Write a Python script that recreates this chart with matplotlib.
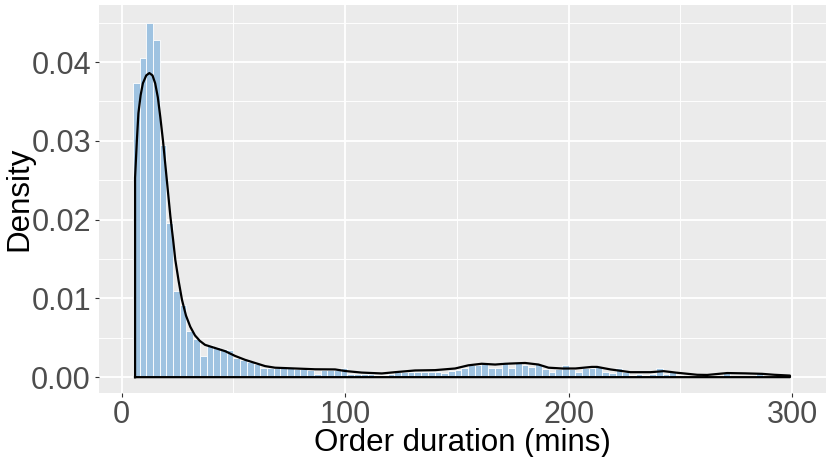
import numpy as np
import matplotlib
matplotlib.use("Agg")
import matplotlib.pyplot as plt

# ---- data ----
bin_start = 5.0
bin_width = 3.0
hist_density = [
    0.0373, 0.0405, 0.0450, 0.0428, 0.0295, 0.0196, 0.0109, 0.0091, 0.0059, 0.0049,
    0.0027, 0.0041, 0.0038, 0.0036, 0.0035, 0.0024, 0.0022, 0.0019, 0.0017, 0.0011,
    0.0011, 0.0011, 0.0011, 0.0011, 0.0010, 0.0010, 0.0009, 0.0004, 0.0009, 0.0009,
    0.0009, 0.0011, 0.0004, 0.0004, 0.0004, 0.0004, 0.0003, 0.0003, 0.0004, 0.0006,
    0.0006, 0.0006, 0.0006, 0.0006, 0.0006, 0.0006, 0.0005, 0.0008, 0.0009, 0.0012,
    0.0016, 0.0015, 0.0018, 0.0011, 0.0012, 0.0019, 0.0011, 0.0018, 0.0016, 0.0013,
    0.0017, 0.0010, 0.0006, 0.0010, 0.0015, 0.0010, 0.0006, 0.0011, 0.0011, 0.0013,
    0.0007, 0.0005, 0.0011, 0.0006, 0.0003, 0.0004, 0.0003, 0.0004, 0.0011, 0.0004,
    0.0008, 0.0003, 0.0002, 0.0002, 0.0002, 0.0002, 0.0002, 0.0002, 0.0006, 0.0002,
    0.0002, 0.0002, 0.0002, 0.0005, 0.0002, 0.0001, 0.0001, 0.0001,
]

kde_x = [6.0, 6.8, 7.5, 8.5, 9.5, 11.0, 12.4, 13.8, 15.0, 16.2, 17.3, 18.5, 19.6,
         20.7, 21.8, 23.0, 24.0, 25.5, 27.0, 28.8, 30.7, 32.8, 35.0, 37.3, 41.8,
         46.3, 50.7, 55.2, 59.7, 64.2, 68.6, 77.6, 86.5, 95.5, 100.0, 107.4, 116.4,
         122.3, 131.3, 140.2, 149.2, 155.1, 161.1, 167.1, 171.6, 180.5, 186.5,
         191.0, 197.0, 203.0, 210.4, 212.7, 218.7, 227.6, 236.6, 242.5, 248.5,
         257.5, 262.0, 270.9, 279.0, 286.5, 292.0, 299.0]
kde_y = [0.0253, 0.0300, 0.0335, 0.0358, 0.0373, 0.0383, 0.0386, 0.0383, 0.0373,
         0.0355, 0.0330, 0.0300, 0.0268, 0.0236, 0.0204, 0.0175, 0.0149, 0.0122,
         0.0098, 0.0078, 0.0064, 0.0053, 0.0046, 0.0041, 0.0037, 0.0033, 0.0027,
         0.0022, 0.0018, 0.0014, 0.0012, 0.0011, 0.0010, 0.00098, 0.00078, 0.00058,
         0.00047, 0.00063, 0.00085, 0.00089, 0.0011, 0.0015, 0.0017, 0.0016, 0.0017,
         0.0018, 0.0016, 0.0012, 0.0011, 0.0011, 0.0013, 0.0013, 0.00098, 0.00063,
         0.00063, 0.00076, 0.00056, 0.0003, 0.00028, 0.00052, 0.00048, 0.00042,
         0.0003, 0.0002]

x_ticks = [0, 100, 200, 300]
y_ticks = [0.00, 0.01, 0.02, 0.03, 0.04]
x_label = "Order duration (mins)"
y_label = "Density"

# ---- figure ----
plt.rcParams['font.family'] = ['Liberation Sans', 'DejaVu Sans']
fig = plt.figure(figsize=(8.31, 4.57), dpi=100)
ax = fig.add_axes([99.3 / 831, 1 - 393.3 / 457, (825.7 - 99.3) / 831, (393.3 - 5.3) / 457])
ax.set_facecolor('#EBEBEB')
for s in ax.spines.values():
    s.set_visible(False)

ax.set_xlim(-10.0, 315.0)
ax.set_ylim(-0.00205, 0.0472)

# grid
ax.set_xticks(x_ticks)
ax.set_yticks(y_ticks)
ax.set_xticks([50, 150, 250], minor=True)
ax.set_yticks([0.005, 0.015, 0.025, 0.035, 0.045], minor=True)
ax.grid(True, which='major', color='white', linewidth=1.3)
ax.grid(True, which='minor', color='white', linewidth=0.65)
ax.set_axisbelow(True)

edges = bin_start + bin_width * np.arange(len(hist_density))
ax.bar(edges, hist_density, width=bin_width, align='edge',
       color='#9FC3E1', edgecolor='white', linewidth=0.6, zorder=2)

# density outline (closed like ggplot geom_density)
px = [kde_x[0]] + kde_x + [kde_x[-1]]
py = [0.0] + kde_y + [0.0]
ax.plot(px + [kde_x[0]], py + [0.0], color='black', linewidth=1.6, zorder=3,
        solid_joinstyle='round')

ax.set_xticklabels([str(t) for t in x_ticks])
ax.set_yticklabels([f"{t:.2f}" for t in y_ticks])
ax.tick_params(axis='both', which='major', labelsize=22, labelcolor='#4D4D4D',
               color='#333333', length=3, width=0.8, pad=3)
ax.tick_params(axis='x', which='major', pad=1.5)
ax.tick_params(axis='both', which='minor', length=0)

fig.text(462.5 / 831, 1 - 443 / 457, x_label, ha='center', va='center', fontsize=22.5)
fig.text(19 / 831, 1 - 199 / 457, y_label, ha='center', va='center', fontsize=22.5,
         rotation=90)

fig.savefig('out.png', dpi=100, facecolor='white')
